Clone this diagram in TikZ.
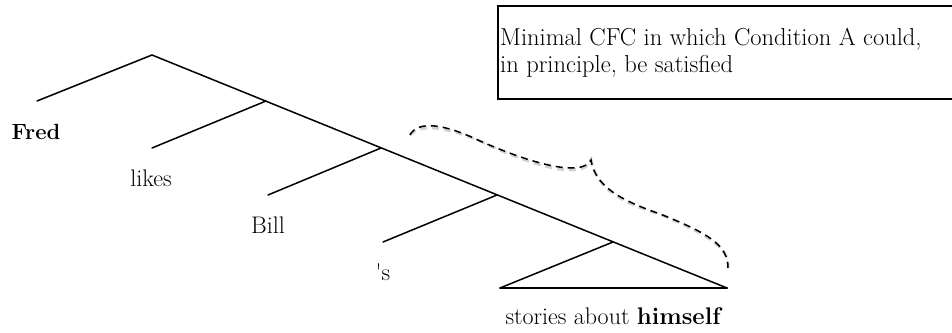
\documentclass[tikz,border=0pt]{standalone}
\begin{document}
\begin{tikzpicture}[x=1pt,y=-1pt,
  branch/.style={line width=1.5pt, line cap=round},
  lbl/.style={anchor=base, inner sep=0pt, font=\fontsize{24}{28}\selectfont},
  bracecurve/.style={line width=1.5pt, dash pattern=on 7pt off 5pt},
  braceshadow/.style={line width=3pt, draw=black!18, dash pattern=on 7pt off 5pt},
  cfcbox/.style={draw, line width=1.5pt, minimum width=470pt, minimum height=93pt, anchor=north west, inner sep=0pt},
  boxtext/.style={anchor=base west, inner sep=0pt, font=\fontsize{24.5}{30}\selectfont}]
\useasboundingbox (0,0) rectangle (952,332);
% tree points
\coordinate (r) at (152,55);
\coordinate (fredtop) at (37,101);
\coordinate (n2) at (266,101);
\coordinate (likestop) at (152,148);
\coordinate (n3) at (381,148);
\coordinate (billtop) at (268,195);
\coordinate (n4) at (497,195);
\coordinate (stop) at (383,242);
\coordinate (n5) at (613,242);
\coordinate (tl) at (500,288);
\coordinate (tr) at (727,288);
% branches
\draw[branch] (fredtop) -- (r) -- (tr);
\draw[branch] (likestop) -- (n2);
\draw[branch] (billtop) -- (n3);
\draw[branch] (stop) -- (n4);
\draw[branch] (tl) -- (n5);
\draw[branch, line width=2pt] (tl) -- (tr);
% labels
\node[lbl, font=\fontsize{22}{26}\selectfont] (fred) at (36,139) {\bfseries Fred};
\node[lbl] (likes) at (151,186) {likes};
\node[lbl] (bill) at (268,233) {Bill};
\node[lbl] (s) at (383,280) {\textquotesingle s};
\node[lbl] (stories) at (614,324) {stories about \textbf{himself}};
% brace
\coordinate (b0) at (410,135);
\coordinate (b1) at (480,141);
\coordinate (bc) at (591,160);
\coordinate (b3) at (660,214);
\coordinate (b4) at (728,268);
\draw[braceshadow, shift={(2,3)}] (b0) .. controls (418,120) and (445,124) .. (b1)
  .. controls (530,163) and (582,178) .. (bc)
  .. controls (595,186) and (620,200) .. (b3)
  .. controls (708,233) and (728,245) .. (b4);
\draw[bracecurve] (b0) .. controls (418,120) and (445,124) .. (b1)
  .. controls (530,163) and (582,178) .. (bc)
  .. controls (595,186) and (620,200) .. (b3)
  .. controls (708,233) and (728,245) .. (b4);
% box
\node[cfcbox] (box) at (497,5) {};
\node[boxtext] (cfc1) at (500,45) {Minimal CFC in which Condition A could,};
\node[boxtext] (cfc2) at (500,72) {in principle, be satisfied};
\end{tikzpicture}
\end{document}
